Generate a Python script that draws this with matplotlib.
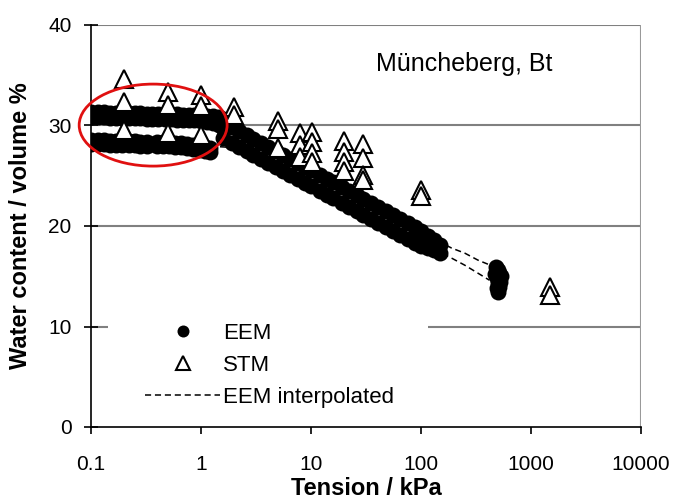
import matplotlib
matplotlib.use('Agg')
import matplotlib.pyplot as plt
from matplotlib.patches import Ellipse, Rectangle

plt.rcParams['font.family'] = ['Liberation Sans', 'DejaVu Sans']

# EEM measurements - upper branch at low tension (two rows of dots)
eem_up_t = [0.10, 0.115, 0.13, 0.15, 0.17, 0.19, 0.22, 0.25, 0.28, 0.32, 0.36, 0.41,
            0.47, 0.53, 0.60, 0.68, 0.77, 0.87, 1.0, 1.13, 1.28, 1.45, 1.6]
eem_up_w1 = [31.3, 31.3, 31.3, 31.2, 31.2, 31.2, 31.2, 31.2, 31.2, 31.1, 31.1, 31.1,
             31.1, 31.1, 31.1, 31.0, 31.0, 31.0, 31.0, 30.9, 30.9, 30.8, 30.6]
eem_up_w2 = [30.8, 30.8, 30.8, 30.7, 30.7, 30.7, 30.7, 30.7, 30.7, 30.6, 30.6, 30.6,
             30.6, 30.6, 30.5, 30.5, 30.5, 30.5, 30.4, 30.3, 30.2, 30.0, 29.8]

# EEM - lower branch at low tension
eem_lo_t = [0.10, 0.115, 0.13, 0.15, 0.17, 0.19, 0.22, 0.25, 0.28, 0.32, 0.40, 0.45,
            0.51, 0.58, 0.66, 0.75, 0.85, 0.96, 1.08, 1.2]
eem_lo_w1 = [28.6, 28.6, 28.6, 28.5, 28.5, 28.5, 28.5, 28.5, 28.4, 28.4, 28.4, 28.4,
             28.4, 28.3, 28.3, 28.2, 28.1, 28.0, 27.9, 27.8]
eem_lo_w2 = [28.2, 28.2, 28.2, 28.1, 28.1, 28.1, 28.1, 28.1, 28.0, 28.0, 28.0, 28.0,
             28.0, 27.9, 27.9, 27.8, 27.7, 27.6, 27.5, 27.4]

# EEM - main drying band
eem_main_t = [1.6, 1.9, 2.2, 2.6, 3.0, 3.5, 4.1, 4.8, 5.6, 6.5, 7.6, 8.9, 10, 12, 14, 16,
              19, 22, 26, 30, 35, 41, 48, 56, 65, 76, 89, 100, 115, 130, 150]
eem_main_w1 = [30.4, 29.9, 29.5, 29.1, 28.7, 28.3, 27.9, 27.5, 27.1, 26.7, 26.3, 25.9,
               25.6, 25.1, 24.7, 24.4, 23.9, 23.5, 23.1, 22.7, 22.3, 21.9, 21.5, 21.1,
               20.7, 20.3, 19.9, 19.5, 19.0, 18.6, 18.1]
eem_main_w2 = [28.8, 28.3, 27.9, 27.5, 27.1, 26.7, 26.3, 25.9, 25.5, 25.1, 24.7, 24.3,
               24.0, 23.5, 23.1, 22.8, 22.3, 21.9, 21.5, 21.1, 20.7, 20.3, 19.9, 19.5,
               19.1, 18.7, 18.3, 18.0, 17.8, 17.6, 17.3]

# EEM - cluster near 500 kPa
eem_end_t = [480, 500, 470, 510, 490, 530, 500, 520, 490, 510, 500]
eem_end_w = [15.9, 15.6, 15.2, 15.3, 14.8, 15.0, 14.3, 14.4, 13.8, 13.9, 13.4]

# STM measurements
stm_t = [0.2, 0.2, 0.2, 0.5, 0.5, 0.5, 1, 1, 1, 2, 2, 5, 5, 5,
         7.9, 7.9, 7.9, 10.2, 10.2, 10.2, 10.2, 20, 20, 20, 20,
         30, 30, 30, 30, 100, 100, 1500, 1500]
stm_w = [34.6, 32.3, 29.6, 33.3, 32.0, 29.3, 33.0, 31.9, 29.1, 31.8, 31.0, 30.4, 29.7, 27.8,
         29.3, 28.1, 26.9, 29.4, 28.4, 27.3, 26.4, 28.5, 27.4, 26.4, 25.5,
         28.2, 26.8, 25.1, 24.6, 23.6, 23.0, 13.9, 13.1]

# EEM interpolated curves
interp_a_t = [0.1, 1, 2, 10, 100, 190, 250, 330, 450]
interp_a_w = [31.0, 30.7, 29.9, 25.6, 19.4, 17.8, 17.3, 16.6, 16.0]
interp_b_t = [0.1, 1, 2, 10, 100, 190, 250, 330, 420]
interp_b_w = [28.4, 28.0, 27.8, 24.2, 18.3, 16.8, 16.1, 15.3, 14.6]

fig = plt.figure(figsize=(6.74, 5.04), dpi=100)
ax = fig.add_axes([91 / 674, 77 / 504, 550 / 674, 402 / 504])

ax.set_xscale('log')
ax.set_xlim(0.1, 10000)
ax.set_ylim(0, 40)

# gridlines and frame
for yv in [10, 20, 30, 40]:
    ax.axhline(yv, color='#808080', lw=1.5, zorder=1)
ax.axvline(10000, color='#999999', lw=1.5, zorder=1)
for s in ['top', 'right']:
    ax.spines[s].set_visible(False)
ax.spines['left'].set_linewidth(1.2)
ax.spines['bottom'].set_linewidth(1.2)

# white legend box over the gridline
ax.add_patch(Rectangle((0.031, 0.004), 0.582, 0.28, transform=ax.transAxes,
                       facecolor='white', edgecolor='none', zorder=1.5))

# dashed interpolated curves
dash_kw = dict(color='black', lw=1.1, ls=(0, (4, 2.5)), zorder=2)
ax.plot(interp_a_t, interp_a_w, label='EEM interpolated', **dash_kw)
ax.plot(interp_b_t, interp_b_w, **dash_kw)

# EEM dots
eem_t = (eem_up_t + eem_up_t + eem_lo_t + eem_lo_t + eem_main_t + eem_main_t + eem_end_t)
eem_w = (eem_up_w1 + eem_up_w2 + eem_lo_w1 + eem_lo_w2 + eem_main_w1 + eem_main_w2 + eem_end_w)
ax.plot(eem_t, eem_w, 'o', color='black', ms=11.5, mew=0, zorder=3, label='EEM')

# STM triangles
ax.plot(stm_t, stm_w, '^', mfc='white', mec='black', mew=1.5, ms=13, zorder=4,
        label='STM')

ax.set_xticks([0.1, 1, 10, 100, 1000, 10000])
ax.set_xticklabels(['0.1', '1', '10', '100', '1000', '10000'])
ax.minorticks_off()
ax.set_yticks([0, 10, 20, 30, 40])
ax.tick_params(axis='both', labelsize=15, width=1.2)
ax.tick_params(axis='y', direction='inout', length=10, pad=9)
ax.tick_params(axis='x', direction='out', length=5, pad=15)

ax.set_xlabel('Tension / kPa', fontsize=17, fontweight='bold', labelpad=2)
ax.set_ylabel('Water content / volume %', fontsize=17, fontweight='bold', labelpad=12)

ax.text(0.678, 0.903, 'Müncheberg, Bt', transform=ax.transAxes, fontsize=18,
        ha='center', va='center')

# red ellipse highlighting the low-tension region
ax.add_patch(Ellipse((0.113, 0.751), 0.269, 0.204, transform=ax.transAxes,
                     facecolor='none', edgecolor='#e01010', lw=2, zorder=5,
                     clip_on=False))

handles, labels = ax.get_legend_handles_labels()
order = [labels.index('EEM'), labels.index('STM'), labels.index('EEM interpolated')]
leg = ax.legend([handles[i] for i in order], [labels[i] for i in order],
                loc='upper left', bbox_to_anchor=(0.098, 0.259), frameon=False,
                fontsize=16, handlelength=3.4, handletextpad=0.1, labelspacing=0.5,
                borderpad=0, borderaxespad=0, markerscale=0.75)

fig.savefig('out.png', dpi=100)
